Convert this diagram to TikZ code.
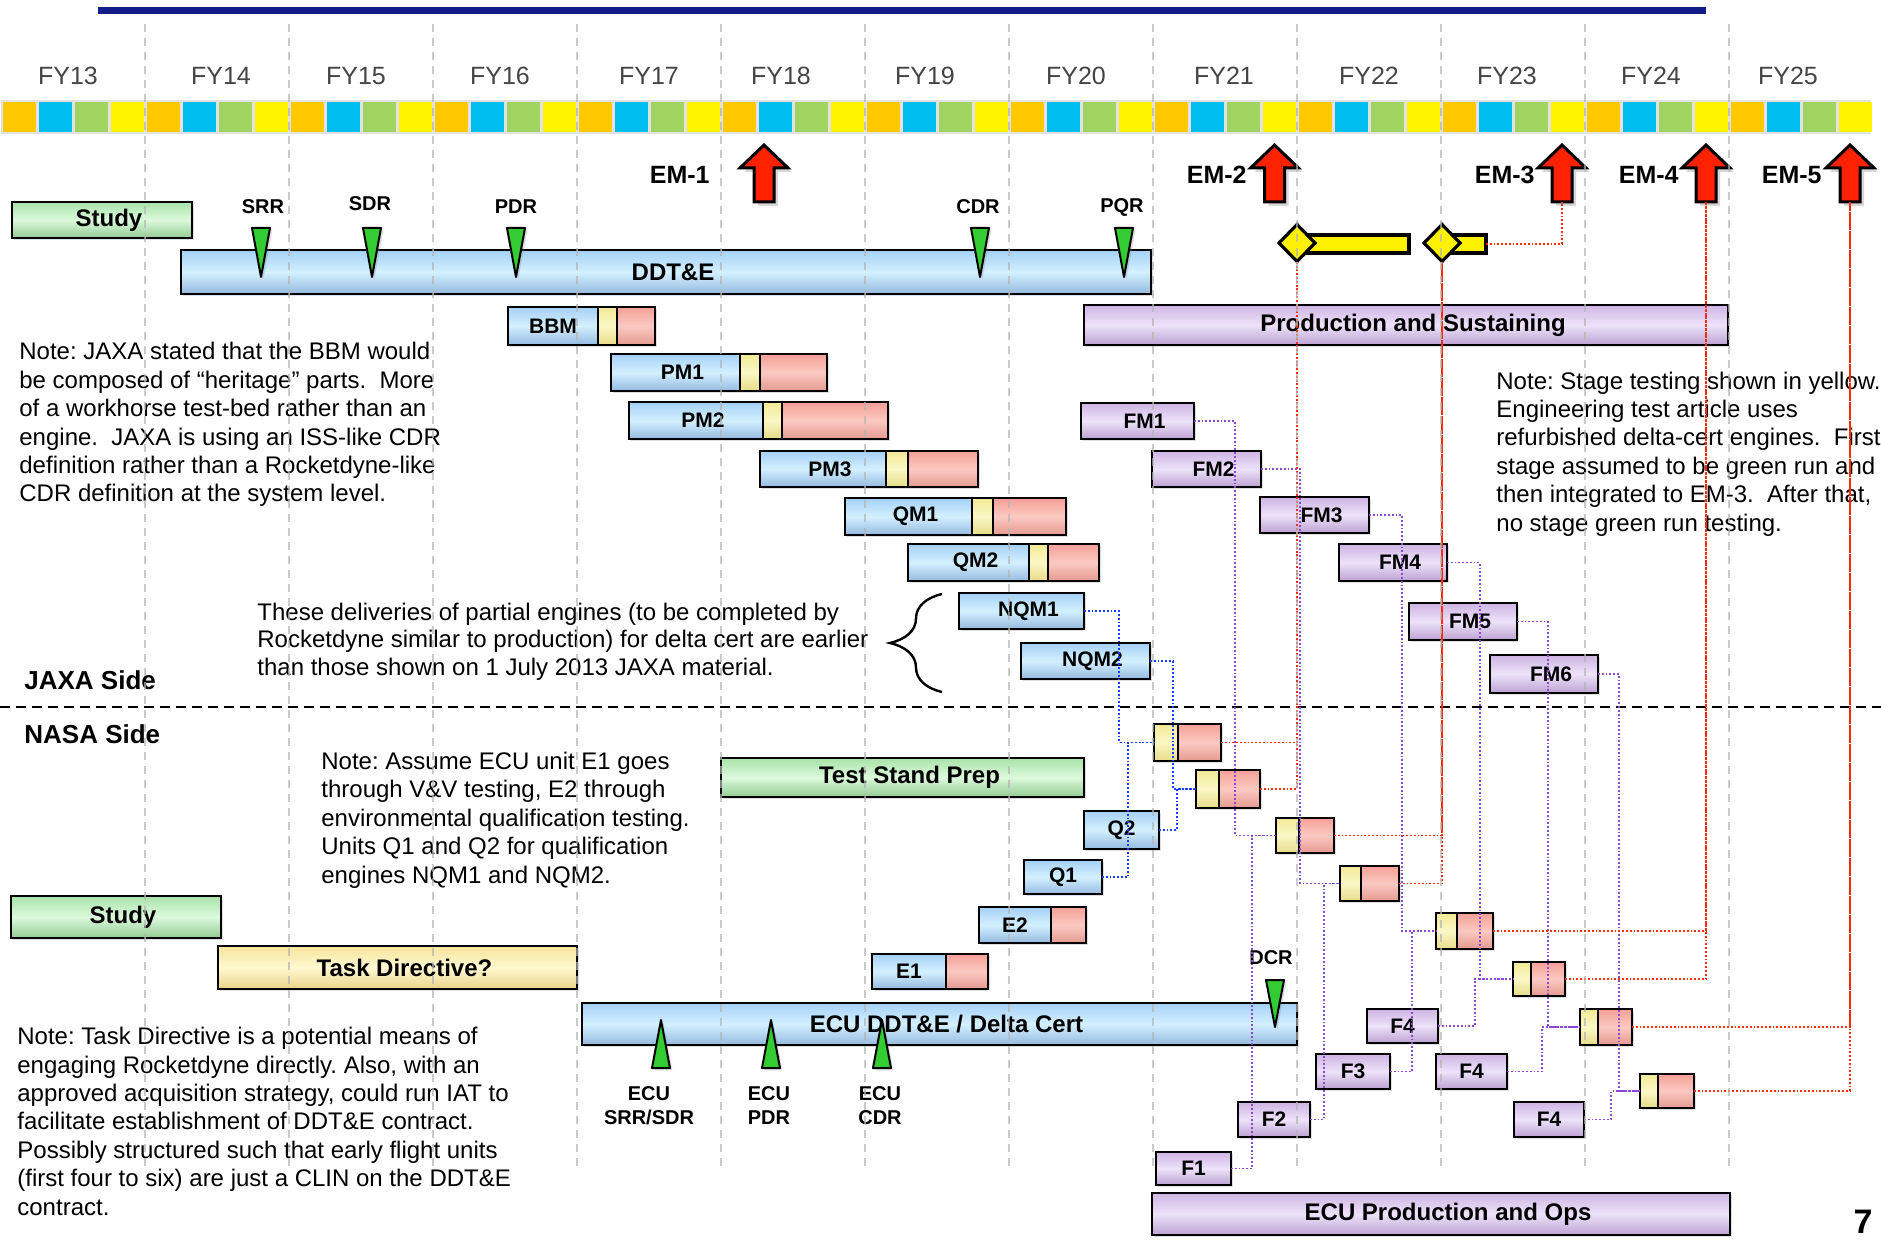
\documentclass[tikz,border=0pt]{standalone}
\usepackage{fontspec}
\setmainfont{Liberation Sans}
\usepackage{tikz}
\usetikzlibrary{positioning, shapes.geometric, shadows, decorations.pathreplacing}
\frenchspacing

\definecolor{navy}{HTML}{141C8A}
\definecolor{qorange}{HTML}{FFC800}
\definecolor{qcyan}{HTML}{00BEF0}
\definecolor{qgreen}{HTML}{A0D460}
\definecolor{qyellow}{HTML}{FFF500}
\definecolor{stripgray}{HTML}{E2E2E2}
\definecolor{gridgray}{HTML}{B4B4B4}
\definecolor{fygray}{HTML}{444444}
\definecolor{blueT}{HTML}{A4D0F6}
\definecolor{blueM}{HTML}{D4F0FF}
\definecolor{blueB}{HTML}{94BAE0}
\definecolor{greenT}{HTML}{A8E2A8}
\definecolor{greenM}{HTML}{DDF9DD}
\definecolor{greenB}{HTML}{92CC92}
\definecolor{purpT}{HTML}{CDB4E2}
\definecolor{purpM}{HTML}{EEE2FA}
\definecolor{purpB}{HTML}{BCA2D2}
\definecolor{taskT}{HTML}{F6E49A}
\definecolor{taskM}{HTML}{FFF8D2}
\definecolor{taskB}{HTML}{EAD488}
\definecolor{stgT}{HTML}{F2EA96}
\definecolor{stgM}{HTML}{FBF7C6}
\definecolor{stgB}{HTML}{E6DC88}
\definecolor{redT}{HTML}{F4A096}
\definecolor{redM}{HTML}{FBC9C2}
\definecolor{redB}{HTML}{E49A90}
\definecolor{msgreen}{HTML}{33CC33}
\definecolor{emred}{HTML}{FF2200}
\definecolor{stageyel}{HTML}{FFF200}
\definecolor{conblue}{HTML}{1A3CFF}
\definecolor{conpurp}{HTML}{8C46D2}
\definecolor{conred}{HTML}{FF2A00}

\begin{document}
\begin{tikzpicture}[x=0.5pt, y=-0.5pt,
    box/.style={draw=black, line width=1.2pt, inner sep=0pt, outer sep=0pt,
      font=\fontsize{10.5}{12}\selectfont\bfseries,
      drop shadow={shadow xshift=1.2pt, shadow yshift=-1.2pt, opacity=0.25}},
    rtext/.style={execute at begin node={\hspace{7pt}}},
    bigbox/.style={box, rtext, font=\fontsize{12}{14}\selectfont\bfseries},
    sz/.style 2 args={minimum width=#1*0.5pt, minimum height=#2*0.5pt},
    bluebox/.style={top color=blueT, bottom color=blueB, middle color=blueM},
    greenbox/.style={top color=greenT, bottom color=greenB, middle color=greenM},
    purpbox/.style={top color=purpT, bottom color=purpB, middle color=purpM},
    taskbox/.style={top color=taskT, bottom color=taskB, middle color=taskM},
    stgbox/.style={top color=stgT, bottom color=stgB, middle color=stgM},
    redbox/.style={top color=redT, bottom color=redB, middle color=redM},
    stagebar/.style={draw=black, line width=1.6pt, fill=stageyel, inner sep=0pt, outer sep=0pt},
    mstone/.style={fill=msgreen, draw=black, line width=1pt, line join=round,
      drop shadow={shadow xshift=1.2pt, shadow yshift=-1.2pt, opacity=0.25}},
    mslabel/.style={font=\fontsize{10}{12}\selectfont\bfseries, inner sep=0pt},
    emarrow/.style={fill=emred, draw=black, line width=1.5pt, line join=miter,
      drop shadow={shadow xshift=2pt, shadow yshift=-2pt, opacity=0.3}},
    emlabel/.style={font=\fontsize{12.5}{14}\selectfont\bfseries, inner sep=0pt},
    fylabel/.style={font=\fontsize{12.5}{14}\selectfont, text=fygray, inner sep=0pt},
    note/.style={align=left, inner sep=0pt, font=\fontsize{12}{14.2}\selectfont},
    sidelabel/.style={font=\fontsize{13}{15}\selectfont\bfseries, inner sep=0pt},
    gridline/.style={gridgray, line width=0.6pt, dash pattern=on 4pt off 3pt, opacity=0.7},
    bluecon/.style={conblue, line width=0.9pt, densely dotted},
    purpcon/.style={conpurp, line width=0.9pt, densely dotted},
    redcon/.style={conred, line width=0.9pt, densely dotted}]

  \useasboundingbox (0,0) rectangle (1881,1241);
  \fill[white] (0,0) rectangle (1881,1241);

  \fill[navy] (98,7) rectangle (1706,14);
  \fill[stripgray] (1,100) rectangle (1871,134);
  \foreach \y in {0,...,12}
    \foreach \q/\c in {0/qorange, 1/qcyan, 2/qgreen, 3/qyellow}
      \fill[fill=\c] ({1+144*\y+36*\q+1.5},102) rectangle ({1+144*\y+36*\q+35},132);
  \foreach \fx/\fy in {68/13, 221/14, 356/15, 500/16, 649/17, 781/18, 925/19,
      1076/20, 1224/21, 1369/22, 1507/23, 1651/24, 1788/25}
    \node[fylabel] (fy\fy) at (\fx,76) {FY\fy};

  \foreach \ex/\en in {764/1, 1274.5/2, 1562/3, 1706/4, 1850/5} {
    \draw[emarrow] (\ex,145) -- ++(24,23) -- ++(-14,0) -- ++(0,34) -- ++(-20,0)
      -- ++(0,-34) -- ++(-14,0) -- cycle;
    \coordinate (em\en) at (\ex,202);
  }
  \node[emlabel, anchor=east] (em1-text) at (710,175) {EM-1};
  \node[emlabel, anchor=east] (em2-text) at (1247,175) {EM-2};
  \node[emlabel, anchor=east] (em3-text) at (1535,175) {EM-3};
  \node[emlabel, anchor=east] (em4-text) at (1679,175) {EM-4};
  \node[emlabel, anchor=east] (em5-text) at (1822,175) {EM-5};

  \node[bigbox, greenbox, sz={180}{36}] (study1) at (102,220) {Study};
  \node[bigbox, bluebox, sz={970}{44}] (ddte) at (666,272) {DDT\&E};

  \draw[mstone] (252,228) -- (270,228) -- (261,277) -- cycle;
  \draw[mstone] (363,228) -- (381,228) -- (372,277) -- cycle;
  \draw[mstone] (507,228) -- (525,228) -- (516,277) -- cycle;
  \draw[mstone] (971,228) -- (989,228) -- (980,277) -- cycle;
  \draw[mstone] (1115,228) -- (1133,228) -- (1124,277) -- cycle;
  \node[mslabel] (srr) at (263,207) {SRR};
  \node[mslabel] (sdr) at (370,204) {SDR};
  \node[mslabel] (pdr) at (516,207) {PDR};
  \node[mslabel] (cdr) at (978,207) {CDR};
  \node[mslabel] (pqr) at (1122,207) {PQR};

  \node[stagebar, minimum width=56pt, minimum height=9pt] (sb1) at (1353,244) {};
  \node[stagebar, minimum width=22pt, minimum height=9pt] (sb2) at (1464,244) {};
  \node[stagebar, diamond, minimum width=18pt, minimum height=18.5pt] (dia1) at (1297,243) {};
  \node[stagebar, diamond, minimum width=18pt, minimum height=18.5pt] (dia2) at (1442,243) {};

  \node[box, bluebox, sz={90}{38}] (bbm) at (553,326) {BBM};
  \node[box, stgbox, sz={19}{38}, right=0pt of bbm] (bbm-y) {};
  \node[box, redbox, sz={38}{38}, right=0pt of bbm-y] (bbm-r) {};
  \node[box, rtext, bluebox, sz={129}{37}] (pm1) at (675.5,372.5) {PM1};
  \node[box, stgbox, sz={20}{37}, right=0pt of pm1] (pm1-y) {};
  \node[box, redbox, sz={67}{37}, right=0pt of pm1-y] (pm1-r) {};
  \node[box, rtext, bluebox, sz={134}{37}] (pm2) at (696,420.5) {PM2};
  \node[box, stgbox, sz={19}{37}, right=0pt of pm2] (pm2-y) {};
  \node[box, redbox, sz={106}{37}, right=0pt of pm2-y] (pm2-r) {};
  \node[box, rtext, bluebox, sz={126}{36}] (pm3) at (823,469) {PM3};
  \node[box, stgbox, sz={22}{36}, right=0pt of pm3] (pm3-y) {};
  \node[box, redbox, sz={70}{36}, right=0pt of pm3-y] (pm3-r) {};
  \node[box, rtext, bluebox, sz={127}{37}] (qm1) at (908.5,516.5) {QM1};
  \node[box, stgbox, sz={21}{37}, right=0pt of qm1] (qm1-y) {};
  \node[box, redbox, sz={73}{37}, right=0pt of qm1-y] (qm1-r) {};
  \node[box, rtext, bluebox, sz={121}{37}] (qm2) at (968.5,562.5) {QM2};
  \node[box, stgbox, sz={19}{37}, right=0pt of qm2] (qm2-y) {};
  \node[box, redbox, sz={51}{37}, right=0pt of qm2-y] (qm2-r) {};
  \node[box, rtext, bluebox, sz={125}{36}] (nqm1) at (1021.5,611) {NQM1};
  \node[box, rtext, bluebox, sz={129}{36}] (nqm2) at (1085.5,661) {NQM2};

  \node[bigbox, purpbox, sz={644}{40}] (prod) at (1406,325) {Production and Sustaining};
  \node[box, rtext, purpbox, sz={113}{36}] (fm1) at (1137.5,421) {FM1};
  \node[box, rtext, purpbox, sz={109}{36}] (fm2) at (1206.5,469) {FM2};
  \node[box, rtext, purpbox, sz={109}{36}] (fm3) at (1314.5,515) {FM3};
  \node[box, rtext, purpbox, sz={108}{37}] (fm4) at (1393,562.5) {FM4};
  \node[box, rtext, purpbox, sz={108}{37}] (fm5) at (1463,621.5) {FM5};
  \node[box, rtext, purpbox, sz={108}{38}] (fm6) at (1544,674) {FM6};

  \node[note, anchor=base west] (jaxanote) at (19,502) {Note: JAXA stated that the BBM would\\be composed of “heritage” parts.\ \ More\\of a workhorse test-bed rather than an\\engine.\ \ JAXA is using an ISS-like CDR\\definition rather than a Rocketdyne-like\\CDR definition at the system level.};
  \node[note, anchor=base west, font=\fontsize{12}{13.75}\selectfont] (delivnote) at (257,675) {These deliveries of partial engines (to be completed by\\Rocketdyne similar to production) for delta cert are earlier\\than those shown on 1 July 2013 JAXA material.};
  \node[note, anchor=base west] (stagenote) at (1496,531) {Note: Stage testing shown in yellow.\\Engineering test article uses\\refurbished delta-cert engines.\ \ First\\stage assumed to be green run and\\then integrated to EM-3.\ \ After that,\\no stage green run testing.};
  \draw[decorate, decoration={brace, amplitude=26pt}, line width=1.2pt] (942,692) -- (942,594);

  \node[sidelabel, anchor=west] (jaxaside) at (24,680) {JAXA Side};
  \draw[black, line width=1.2pt, dash pattern=on 5pt off 3pt] (0,707) -- (1881,707);
  \node[sidelabel, anchor=west] (nasaside) at (24,734.5) {NASA Side};

  \node[note, anchor=base west] (ecunote) at (321,883) {Note: Assume ECU unit E1 goes\\through V\&V testing, E2 through\\environmental qualification testing.\\Units Q1 and Q2 for qualification\\engines NQM1 and NQM2.};
  \node[note, anchor=base west] (tdnote) at (17,1215) {Note: Task Directive is a potential means of\\engaging Rocketdyne directly. Also, with an\\approved acquisition strategy, could run IAT to\\facilitate establishment of DDT\&E contract.\\Possibly structured such that early flight units\\(first four to six) are just a CLIN on the DDT\&E\\contract.};

  \node[bigbox, greenbox, sz={363}{39}] (tsprep) at (902.5,777.5) {Test Stand Prep};
  \node[bigbox, greenbox, sz={210}{42}] (study2) at (116,917) {Study};
  \node[bigbox, taskbox, sz={359}{43}] (taskdir) at (397.5,967.5) {Task Directive?};
  \node[bigbox, bluebox, sz={715}{42}] (ecuddte) at (939.5,1024) {ECU DDT\&E / Delta Cert};

  \draw[mstone] (652,1068) -- (670,1068) -- (661,1020) -- cycle;
  \draw[mstone] (762,1068) -- (780,1068) -- (771,1020) -- cycle;
  \draw[mstone] (873,1068) -- (891,1068) -- (882,1020) -- cycle;
  \node[mslabel, align=center, anchor=base] (ecusrr) at (649,1124) {ECU\\SRR/SDR};
  \node[mslabel, align=center, anchor=base] (ecupdr) at (769,1124) {ECU\\PDR};
  \node[mslabel, align=center, anchor=base] (ecucdr) at (880,1124) {ECU\\CDR};
  \draw[mstone] (1266,980) -- (1284,980) -- (1275,1027) -- cycle;
  \node[mslabel] (dcr) at (1271,958) {DCR};

  \node[box, bluebox, sz={74}{35}] (e1) at (909,971.5) {E1};
  \node[box, redbox, sz={42}{35}, right=0pt of e1] (e1-r) {};
  \node[box, bluebox, sz={72}{36}] (e2) at (1015,925) {E2};
  \node[box, redbox, sz={35}{36}, right=0pt of e2] (e2-r) {};
  \node[box, bluebox, sz={78}{34}] (q1) at (1063,877) {Q1};
  \node[box, bluebox, sz={75}{38}] (q2) at (1121.5,830) {Q2};

  \node[box, stgbox, sz={24}{37}] (tb1-y) at (1166,742.5) {};
  \node[box, redbox, sz={43}{37}, right=0pt of tb1-y] (tb1-r) {};
  \node[box, stgbox, sz={23}{38}] (tb2-y) at (1207.5,789) {};
  \node[box, redbox, sz={41}{38}, right=0pt of tb2-y] (tb2-r) {};
  \node[box, stgbox, sz={23}{35}] (tb3-y) at (1287.5,835.5) {};
  \node[box, redbox, sz={35}{35}, right=0pt of tb3-y] (tb3-r) {};
  \node[box, stgbox, sz={21}{35}] (tb4-y) at (1350.5,883.5) {};
  \node[box, redbox, sz={38}{35}, right=0pt of tb4-y] (tb4-r) {};
  \node[box, stgbox, sz={21}{36}] (tb5-y) at (1446.5,931) {};
  \node[box, redbox, sz={36}{36}, right=0pt of tb5-y] (tb5-r) {};
  \node[box, stgbox, sz={18}{34}] (tb6-y) at (1522,979) {};
  \node[box, redbox, sz={34}{34}, right=0pt of tb6-y] (tb6-r) {};
  \node[box, stgbox, sz={18}{36}] (tb7-y) at (1589,1027) {};
  \node[box, redbox, sz={34}{36}, right=0pt of tb7-y] (tb7-r) {};
  \node[box, stgbox, sz={18}{34}] (tb8-y) at (1649,1091) {};
  \node[box, redbox, sz={36}{34}, right=0pt of tb8-y] (tb8-r) {};

  \node[box, purpbox, sz={71}{34}] (f4a) at (1402.5,1026) {F4};
  \node[box, purpbox, sz={74}{35}] (f3) at (1353,1071.5) {F3};
  \node[box, purpbox, sz={71}{35}] (f4b) at (1471.5,1071.5) {F4};
  \node[box, purpbox, sz={72}{35}] (f2) at (1274,1119.5) {F2};
  \node[box, purpbox, sz={70}{35}] (f4c) at (1549,1119.5) {F4};
  \node[box, purpbox, sz={75}{33}] (f1) at (1193.5,1168.5) {F1};
  \node[bigbox, purpbox, sz={578}{42}] (ecuprod) at (1441,1214) {ECU Production and Ops};

  \draw[bluecon] (nqm1.east) -- ++(35,0) |- (tb1-y.west);
  \draw[bluecon] (q1.east) -- ++(26,0) |- (tb1-y.west);
  \draw[bluecon] (nqm2.east) -- ++(23,0) |- (tb2-y.west);
  \draw[bluecon] (q2.east) -- ++(18,0) |- (tb2-y.west);

  \draw[purpcon] (fm1.east) -- ++(41,0) |- (tb3-y.west);
  \draw[purpcon] (f1.east) -- ++(21,0) |- (tb3-y.west);
  \draw[purpcon] (fm2.east) -- ++(39,0) |- (tb4-y.west);
  \draw[purpcon] (f2.east) -- ++(14,0) |- (tb4-y.west);
  \draw[purpcon] (fm3.east) -- ++(33,0) |- (tb5-y.west);
  \draw[purpcon] (f3.east) -- ++(22,0) |- (tb5-y.west);
  \draw[purpcon] (fm4.east) -- ++(33,0) |- (tb6-y.west);
  \draw[purpcon] (f4a.east) -- ++(37,0) |- (tb6-y.west);
  \draw[purpcon] (fm5.east) -- ++(31,0) |- (tb7-y.west);
  \draw[purpcon] (f4b.east) -- ++(35,0) |- (tb7-y.west);
  \draw[purpcon] (fm6.east) -- ++(21,0) |- (tb8-y.west);
  \draw[purpcon] (f4c.east) -- ++(27,0) |- (tb8-y.west);

  \draw[redcon] (tb1-r.east) -| (dia1.south);
  \draw[redcon] (tb2-r.east) -| (dia1.south);
  \draw[redcon] (tb3-r.east) -| (dia2.south);
  \draw[redcon] (tb4-r.east) -| (dia2.south);
  \draw[redcon] (tb5-r.east) -| (em4);
  \draw[redcon] (tb6-r.east) -| (em4);
  \draw[redcon] (tb7-r.east) -| (em5);
  \draw[redcon] (tb8-r.east) -| (em5);
  \draw[redcon] (sb2.east) -| (em3);

  \foreach \k in {0,...,11}
    \draw[gridline] ({145+144*\k},24) -- ({145+144*\k},1168);

  \node[font=\fontsize{17}{20}\selectfont\bfseries, inner sep=0pt] (pagenum) at (1863,1222) {7};
\end{tikzpicture}
\end{document}
